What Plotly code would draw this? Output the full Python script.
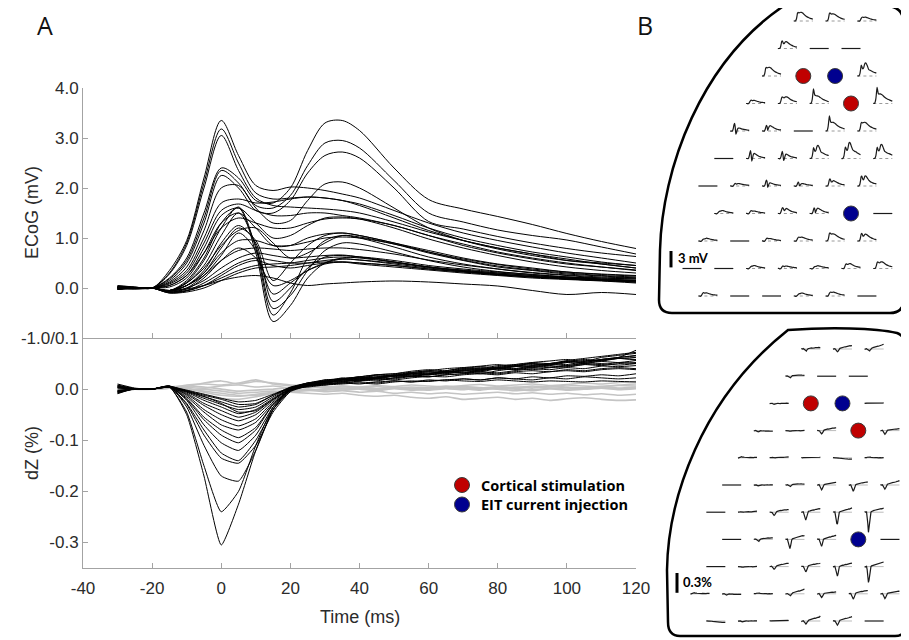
import plotly.graph_objects as go

# ---------------- DATA ----------------
# ECoG traces (mV), sampled at T_ECOG (ms)
T_ECOG = [-30, -25, -20, -15, -10, -5, 0, 5, 10, 15, 20, 25, 30, 35, 40, 50, 60, 70, 80, 90, 100, 110, 120]

ecog_a1 = [0.04, 0.02, 0.0, 0.35, 0.95, 2.2, 3.35, 2.65, 2.05, 1.95, 2.02, 2.0, 1.95, 1.88, 1.8, 1.55, 1.3, 1.1, 0.95, 0.82, 0.7, 0.6, 0.5]
ecog_a2 = [0.03, 0.01, 0.0, 0.3, 0.9, 2.1, 3.18, 2.5, 1.9, 1.78, 1.8, 1.82, 1.8, 1.75, 1.68, 1.45, 1.2, 1.0, 0.85, 0.72, 0.62, 0.52, 0.45]
ecog_a3 = [0.05, 0.02, 0.0, 0.28, 0.85, 2.0, 3.05, 2.35, 1.8, 1.65, 1.62, 1.6, 1.58, 1.55, 1.5, 1.32, 1.12, 0.95, 0.8, 0.68, 0.58, 0.48, 0.4]
ecog_b1 = [-0.03, -0.01, 0.0, 0.2, 0.6, 1.5, 2.4, 2.2, 1.75, 1.7, 2.0, 2.75, 3.3, 3.35, 3.15, 2.4, 1.77, 1.58, 1.43, 1.27, 1.09, 0.93, 0.79]
ecog_b2 = [-0.02, 0.0, 0.0, 0.18, 0.55, 1.4, 2.35, 2.1, 1.65, 1.6, 1.85, 2.45, 2.9, 2.95, 2.8, 2.15, 1.5, 1.32, 1.16, 1.05, 0.96, 0.82, 0.68]
ecog_b3 = [0.02, 0.01, 0.0, 0.15, 0.5, 1.3, 2.25, 2.0, 1.55, 1.5, 1.75, 2.3, 2.65, 2.72, 2.6, 2.0, 1.33, 1.18, 1.03, 0.9, 0.79, 0.7, 0.63]
ecog_b4 = [0.0, -0.01, 0.0, 0.12, 0.42, 1.15, 2.0, 2.05, 1.6, 1.3, 1.35, 1.75, 2.08, 2.12, 2.0, 1.6, 1.2, 0.95, 0.78, 0.65, 0.55, 0.5, 0.45]
ecog_d1 = [0.01, 0.0, 0.0, 0.1, 0.35, 1.0, 1.7, 1.78, 1.7, 1.72, 1.78, 1.82, 1.8, 1.75, 1.65, 1.4, 1.15, 0.95, 0.8, 0.68, 0.55, 0.48, 0.4]
ecog_d2 = [0.02, 0.0, 0.0, 0.08, 0.3, 0.9, 1.55, 1.68, 1.55, 1.45, 1.45, 1.5, 1.5, 1.45, 1.4, 1.25, 1.05, 0.88, 0.72, 0.6, 0.5, 0.42, 0.35]
ecog_d3 = [-0.02, 0.0, 0.0, 0.05, 0.25, 0.8, 1.45, 1.6, 1.3, 1.0, 1.05, 1.25, 1.4, 1.42, 1.38, 1.2, 0.98, 0.8, 0.65, 0.52, 0.42, 0.35, 0.3]
ecog_d4 = [0.0, -0.02, 0.0, 0.02, 0.2, 0.7, 1.3, 1.5, 1.2, 0.85, 0.85, 1.0, 1.08, 1.1, 1.05, 0.9, 0.75, 0.6, 0.48, 0.4, 0.32, 0.28, 0.25]
ecog_d5 = [0.01, 0.0, 0.0, -0.05, 0.1, 0.4, 0.85, 1.15, 1.2, 0.9, 0.6, 0.7, 0.9, 1.05, 1.02, 0.88, 0.7, 0.55, 0.42, 0.35, 0.28, 0.24, 0.2]
ecog_d6 = [0.0, 0.0, 0.0, 0.05, 0.25, 0.7, 1.2, 1.4, 1.3, 1.2, 1.2, 1.3, 1.38, 1.4, 1.38, 1.25, 1.05, 0.85, 0.7, 0.58, 0.48, 0.42, 0.36]
ecog_c1 = [0.0, -0.02, 0.0, -0.05, 0.15, 0.6, 1.3, 1.6, 0.7, -0.67, -0.35, 0.2, 0.5, 0.6, 0.62, 0.55, 0.45, 0.38, 0.32, 0.27, 0.22, 0.18, 0.15]
ecog_c2 = [0.02, 0.0, 0.0, -0.05, 0.12, 0.55, 1.2, 1.62, 0.8, -0.54, -0.1, 0.6, 0.95, 1.05, 1.0, 0.82, 0.62, 0.48, 0.38, 0.3, 0.25, 0.2, 0.18]
ecog_c3 = [-0.02, 0.0, 0.0, -0.06, 0.1, 0.45, 1.05, 1.5, 0.85, -0.41, -0.15, 0.35, 0.75, 0.9, 0.88, 0.72, 0.55, 0.42, 0.33, 0.27, 0.22, 0.18, 0.15]
ecog_c4 = [0.01, 0.0, 0.0, -0.07, 0.05, 0.35, 0.9, 1.25, 0.9, -0.27, 0.0, 0.4, 0.62, 0.65, 0.62, 0.52, 0.42, 0.34, 0.28, 0.23, 0.2, 0.16, 0.14]
ecog_c5 = [0.0, -0.01, 0.0, -0.08, 0.0, 0.25, 0.65, 1.1, 0.75, -0.12, 0.1, 0.35, 0.5, 0.58, 0.56, 0.48, 0.4, 0.33, 0.27, 0.22, 0.18, 0.15, 0.12]
ecog_c6 = [-0.03, 0.0, 0.0, -0.08, -0.02, 0.2, 0.55, 0.8, 0.6, 0.05, 0.15, 0.35, 0.48, 0.52, 0.5, 0.45, 0.38, 0.32, 0.26, 0.22, 0.18, 0.15, 0.12]
ecog_c7 = [0.01, 0.0, 0.0, -0.05, 0.05, 0.3, 0.8, 1.2, 0.95, 0.15, 0.5, 0.85, 1.05, 1.1, 1.05, 0.9, 0.72, 0.56, 0.44, 0.36, 0.3, 0.25, 0.22]
ecog_e1 = [0.0, 0.0, 0.0, -0.08, -0.05, 0.05, 0.2, 0.35, 0.45, 0.48, 0.5, 0.55, 0.6, 0.62, 0.6, 0.52, 0.42, 0.34, 0.28, 0.22, 0.18, 0.15, 0.12]
ecog_e2 = [0.02, 0.01, 0.0, -0.1, -0.06, 0.05, 0.25, 0.45, 0.55, 0.45, 0.4, 0.45, 0.5, 0.52, 0.5, 0.45, 0.38, 0.32, 0.27, 0.23, 0.2, 0.17, 0.15]
ecog_e3 = [-0.02, 0.0, 0.0, -0.1, -0.08, 0.0, 0.15, 0.3, 0.4, 0.42, 0.45, 0.5, 0.55, 0.58, 0.56, 0.5, 0.42, 0.35, 0.3, 0.25, 0.2, 0.17, 0.14]
ecog_e4 = [0.0, 0.0, 0.0, -0.06, 0.0, 0.15, 0.4, 0.6, 0.7, 0.65, 0.6, 0.62, 0.65, 0.66, 0.62, 0.52, 0.42, 0.36, 0.3, 0.25, 0.22, 0.2, 0.18]
ecog_e5 = [0.03, 0.01, 0.0, -0.09, -0.05, 0.1, 0.3, 0.5, 0.6, 0.55, 0.5, 0.5, 0.52, 0.52, 0.48, 0.42, 0.36, 0.3, 0.25, 0.2, 0.17, 0.14, 0.1]
ecog_e6 = [0.0, -0.01, 0.0, -0.05, 0.05, 0.25, 0.55, 0.75, 0.8, 0.78, 0.75, 0.78, 0.8, 0.8, 0.77, 0.68, 0.56, 0.46, 0.38, 0.31, 0.26, 0.22, 0.2]
ecog_e7 = [0.01, 0.0, 0.0, -0.05, 0.05, 0.3, 0.7, 0.95, 0.95, 0.85, 0.85, 0.92, 1.0, 1.02, 1.0, 0.88, 0.72, 0.58, 0.47, 0.38, 0.32, 0.27, 0.24]
ecog_f1 = [0.0, 0.0, 0.0, -0.05, -0.02, 0.05, 0.15, 0.22, 0.25, 0.2, 0.1, 0.05, 0.08, 0.1, 0.12, 0.14, 0.12, 0.08, 0.04, -0.05, -0.13, -0.09, -0.13]

# Impedance change traces dZ (%), sampled at T_DZ (ms)
T_DZ = [-30, -25, -20, -15, -10, -5, 0, 5, 10, 15, 20, 25, 30, 35, 40, 45, 50, 55, 60, 65, 70, 75, 80, 85, 90, 95, 100, 105, 110, 115, 120]

dz_z1 = [0.010, 0.002, 0.000, 0.005, -0.050, -0.170, -0.305, -0.225, -0.120, -0.040, 0.002, 0.010, 0.018, 0.020, 0.024, 0.028, 0.030, 0.033, 0.036, 0.040, 0.042, 0.040, 0.046, 0.048, 0.050, 0.047, 0.055, 0.052, 0.058, 0.060, 0.062]
dz_z2 = [-0.008, 0.001, 0.000, 0.004, -0.045, -0.150, -0.240, -0.200, -0.110, -0.035, 0.000, 0.012, 0.015, 0.022, 0.020, 0.028, 0.030, 0.035, 0.038, 0.036, 0.042, 0.045, 0.048, 0.044, 0.052, 0.055, 0.058, 0.054, 0.062, 0.066, 0.070]
dz_z3 = [0.006, 0.000, 0.000, 0.006, -0.035, -0.110, -0.170, -0.180, -0.120, -0.040, -0.002, 0.008, 0.012, 0.018, 0.022, 0.020, 0.026, 0.030, 0.028, 0.034, 0.036, 0.040, 0.038, 0.044, 0.046, 0.050, 0.048, 0.054, 0.058, 0.062, 0.065]
dz_z4 = [-0.005, 0.001, 0.000, 0.004, -0.030, -0.090, -0.135, -0.145, -0.110, -0.045, -0.005, 0.006, 0.012, 0.015, 0.018, 0.022, 0.020, 0.025, 0.028, 0.030, 0.034, 0.030, 0.036, 0.040, 0.038, 0.042, 0.044, 0.048, 0.046, 0.050, 0.052]
dz_z5 = [0.004, 0.000, 0.000, 0.005, -0.028, -0.080, -0.125, -0.140, -0.100, -0.040, -0.004, 0.008, 0.014, 0.018, 0.016, 0.022, 0.025, 0.028, 0.032, 0.030, 0.036, 0.038, 0.042, 0.040, 0.046, 0.050, 0.052, 0.056, 0.055, 0.060, 0.058]
dz_z6 = [-0.003, 0.000, 0.000, 0.006, -0.022, -0.070, -0.105, -0.120, -0.090, -0.035, -0.002, 0.010, 0.016, 0.014, 0.020, 0.024, 0.028, 0.026, 0.030, 0.035, 0.032, 0.038, 0.040, 0.044, 0.042, 0.048, 0.046, 0.050, 0.054, 0.052, 0.056]
dz_z7 = [0.008, 0.001, 0.000, 0.004, -0.020, -0.060, -0.090, -0.105, -0.080, -0.030, 0.000, 0.008, 0.012, 0.018, 0.022, 0.020, 0.026, 0.030, 0.034, 0.032, 0.038, 0.036, 0.042, 0.045, 0.048, 0.046, 0.052, 0.050, 0.056, 0.060, 0.057]
dz_z8 = [-0.006, 0.000, 0.000, 0.005, -0.018, -0.055, -0.080, -0.095, -0.075, -0.030, -0.003, 0.006, 0.010, 0.014, 0.018, 0.016, 0.022, 0.025, 0.024, 0.028, 0.030, 0.034, 0.032, 0.036, 0.040, 0.038, 0.042, 0.040, 0.045, 0.044, 0.046]
dz_z9 = [0.002, 0.000, 0.000, 0.005, -0.015, -0.045, -0.070, -0.080, -0.065, -0.028, -0.002, 0.010, 0.016, 0.020, 0.018, 0.024, 0.027, 0.030, 0.028, 0.033, 0.036, 0.034, 0.040, 0.038, 0.042, 0.045, 0.043, 0.048, 0.050, 0.047, 0.050]
dz_z10 = [-0.004, 0.000, 0.000, 0.006, -0.012, -0.040, -0.060, -0.072, -0.058, -0.025, 0.000, 0.006, 0.010, 0.012, 0.016, 0.020, 0.018, 0.022, 0.025, 0.024, 0.028, 0.030, 0.028, 0.032, 0.030, 0.034, 0.036, 0.034, 0.038, 0.040, 0.038]
dz_z11 = [0.005, 0.000, 0.000, 0.004, -0.010, -0.032, -0.050, -0.062, -0.050, -0.022, 0.002, 0.012, 0.016, 0.020, 0.024, 0.022, 0.028, 0.032, 0.030, 0.036, 0.040, 0.038, 0.044, 0.046, 0.044, 0.050, 0.054, 0.052, 0.058, 0.062, 0.066]
dz_z12 = [-0.007, 0.001, 0.000, 0.005, -0.008, -0.028, -0.042, -0.055, -0.045, -0.020, 0.000, 0.004, 0.008, 0.010, 0.012, 0.010, 0.014, 0.016, 0.015, 0.018, 0.020, 0.018, 0.022, 0.020, 0.024, 0.022, 0.026, 0.025, 0.028, 0.026, 0.030]
dz_z13 = [0.003, 0.000, 0.000, 0.004, -0.006, -0.022, -0.035, -0.048, -0.040, -0.018, 0.002, 0.008, 0.012, 0.016, 0.020, 0.018, 0.022, 0.026, 0.024, 0.028, 0.030, 0.032, 0.030, 0.034, 0.036, 0.034, 0.038, 0.036, 0.040, 0.042, 0.040]
dz_z14 = [-0.002, 0.000, 0.000, 0.005, -0.005, -0.018, -0.030, -0.040, -0.035, -0.015, 0.003, 0.010, 0.014, 0.018, 0.016, 0.022, 0.026, 0.024, 0.030, 0.034, 0.032, 0.036, 0.040, 0.038, 0.044, 0.042, 0.046, 0.050, 0.048, 0.052, 0.050]
dz_z15 = [0.007, 0.001, 0.000, 0.006, -0.004, -0.015, -0.025, -0.035, -0.030, -0.012, 0.002, 0.006, 0.008, 0.012, 0.010, 0.014, 0.016, 0.014, 0.018, 0.016, 0.020, 0.018, 0.022, 0.020, 0.018, 0.022, 0.020, 0.024, 0.022, 0.020, 0.022]
dz_z16 = [-0.005, 0.000, 0.000, 0.004, -0.003, -0.012, -0.020, -0.030, -0.028, -0.012, 0.004, 0.012, 0.018, 0.020, 0.024, 0.028, 0.026, 0.032, 0.036, 0.034, 0.040, 0.044, 0.042, 0.048, 0.052, 0.050, 0.056, 0.060, 0.064, 0.068, 0.072]
dz_z17 = [0.004, 0.000, 0.000, 0.005, -0.002, -0.010, -0.018, -0.025, -0.022, -0.010, 0.003, 0.008, 0.010, 0.012, 0.014, 0.012, 0.016, 0.014, 0.016, 0.018, 0.016, 0.015, 0.018, 0.016, 0.014, 0.016, 0.015, 0.014, 0.016, 0.015, 0.014]
dz_z18 = [-0.009, 0.001, 0.000, 0.004, -0.004, -0.014, -0.028, -0.045, -0.042, -0.020, 0.000, 0.008, 0.014, 0.018, 0.022, 0.026, 0.024, 0.030, 0.034, 0.032, 0.038, 0.042, 0.040, 0.046, 0.050, 0.048, 0.054, 0.058, 0.056, 0.062, 0.076]

# channels without a response (drawn grey)
dz_g1 = [-0.004, 0.000, 0.000, 0.003, 0.005, 0.012, 0.016, 0.010, 0.015, 0.012, 0.008, 0.006, 0.004, 0.006, 0.003, 0.005, 0.002, 0.004, 0.003, 0.006, 0.004, 0.002, 0.005, 0.003, 0.006, 0.004, 0.008, 0.006, 0.005, 0.007, 0.006]
dz_g2 = [0.003, 0.000, 0.000, 0.002, -0.002, 0.000, -0.004, -0.008, -0.006, -0.004, -0.006, -0.008, -0.010, -0.008, -0.012, -0.014, -0.012, -0.016, -0.018, -0.015, -0.020, -0.018, -0.016, -0.020, -0.018, -0.022, -0.019, -0.017, -0.020, -0.022, -0.021]
dz_g3 = [-0.002, 0.000, 0.000, 0.004, 0.002, -0.006, -0.012, -0.014, -0.010, -0.006, -0.002, 0.000, -0.002, 0.002, 0.000, -0.003, 0.001, -0.002, 0.000, 0.003, 0.001, -0.002, 0.002, 0.000, -0.003, 0.001, 0.003, 0.000, 0.002, -0.001, 0.001]
dz_g4 = [0.005, 0.000, 0.000, 0.003, 0.003, 0.002, 0.006, 0.008, 0.004, 0.006, 0.002, 0.004, 0.002, -0.002, 0.002, 0.000, 0.004, 0.002, 0.000, 0.002, 0.005, 0.003, 0.001, 0.004, 0.002, 0.006, 0.004, 0.002, 0.005, 0.008, 0.010]
dz_g5 = [-0.006, 0.000, 0.000, 0.002, -0.004, -0.010, -0.018, -0.020, -0.015, -0.008, -0.004, -0.002, -0.005, -0.003, -0.006, -0.004, -0.008, -0.006, -0.009, -0.007, -0.010, -0.008, -0.006, -0.009, -0.007, -0.010, -0.008, -0.011, -0.009, -0.012, -0.010]
dz_g6 = [0.002, 0.000, 0.000, 0.004, 0.006, 0.004, 0.000, -0.004, -0.002, 0.000, 0.003, 0.005, 0.003, 0.006, 0.004, 0.007, 0.005, 0.008, 0.006, 0.004, 0.007, 0.009, 0.006, 0.008, 0.010, 0.007, 0.009, 0.012, 0.010, 0.013, 0.015]
dz_g7 = [-0.001, 0.000, 0.000, 0.003, 0.000, -0.004, -0.008, -0.012, -0.012, -0.008, -0.005, -0.003, 0.000, -0.002, 0.001, -0.001, 0.002, 0.000, -0.002, 0.001, -0.001, 0.002, 0.000, -0.003, -0.001, 0.001, -0.002, 0.000, 0.003, 0.001, 0.002]
dz_g8 = [0.004, 0.000, 0.000, 0.002, 0.008, 0.010, 0.008, 0.012, 0.018, 0.010, 0.006, 0.003, 0.005, 0.002, 0.004, 0.001, 0.003, 0.000, 0.002, 0.004, 0.002, 0.000, 0.003, 0.001, 0.004, 0.002, 0.000, 0.003, 0.005, 0.002, 0.004]

Y_TICKS_ECOG = [-1, 0, 1, 2, 3, 4]
Y_LABELS_ECOG = ["-1.0/0.1", "0.0", "1.0", "2.0", "3.0", "4.0"]
Y_TICKS_DZ = [-0.3, -0.2, -0.1, 0.0, 0.1]
Y_LABELS_DZ = ["-0.3", "-0.2", "-0.1", "0.0", ""]
X_TICKS = [-40, -20, 0, 20, 40, 60, 80, 100, 120]
X_LABELS = ["-40", "-20", "0", "20", "40", "60", "80", "100", "120"]
LEGEND_LABELS = ["Cortical stimulation", "EIT current injection"]

ECOG = {"A1": ecog_a1, "A2": ecog_a2, "A3": ecog_a3, "B1": ecog_b1, "B2": ecog_b2, "B3": ecog_b3,
        "B4": ecog_b4, "D1": ecog_d1, "D2": ecog_d2, "D3": ecog_d3, "D4": ecog_d4, "D5": ecog_d5,
        "D6": ecog_d6, "C1": ecog_c1, "C2": ecog_c2, "C3": ecog_c3, "C4": ecog_c4, "C5": ecog_c5,
        "C6": ecog_c6, "C7": ecog_c7, "E1": ecog_e1, "E2": ecog_e2, "E3": ecog_e3, "E4": ecog_e4,
        "E5": ecog_e5, "E6": ecog_e6, "E7": ecog_e7, "F1": ecog_f1}
DZ_BLACK = {"Z1": dz_z1, "Z2": dz_z2, "Z3": dz_z3, "Z4": dz_z4, "Z5": dz_z5, "Z6": dz_z6,
            "Z7": dz_z7, "Z8": dz_z8, "Z9": dz_z9, "Z10": dz_z10, "Z11": dz_z11, "Z12": dz_z12,
            "Z13": dz_z13, "Z14": dz_z14, "Z15": dz_z15, "Z16": dz_z16, "Z17": dz_z17, "Z18": dz_z18}
DZ_GREY = {"G1": dz_g1, "G2": dz_g2, "G3": dz_g3, "G4": dz_g4, "G5": dz_g5, "G6": dz_g6,
           "G7": dz_g7, "G8": dz_g8}

# Electrode array layout for panel B: (start column, channels); None = flat channel
TOP_ROWS = [
    (7, ["D1", "D2", "E6"]),
    (6, ["D3", None, None]),
    (5, ["D1", "STIM", "EIT", "B3"]),
    (4, ["E4", "D6", "A3", "STIM", "A1"]),
    (3, ["C1", "C7", None, "A2", "D1"]),
    (2, [None, "C2", "C3", "B3", "B1", "B2"]),
    (1, [None, "E2", "C4", "C6", "D4", "B4"]),
    (2, ["E1", "E5", "D5", "C7", "EIT", None]),
    (1, ["E3", None, "E5", "E6", "D2", "D3"]),
    (0, [None, None, "E1", "E2", "E3", "E7", "D6"]),
    (1, ["E4", None, None, "E1", "E6", None]),
]
BOT_ROWS = [
    (7, ["Z15", "Z14", "Z16"]),
    (6, ["Z17", None, None]),
    (5, ["G3", "STIM", "EIT", "G4"]),
    (4, ["G5", "G7", "Z13", "STIM", "Z12"]),
    (3, ["G1", "G6", "G4", "G2", "G8"]),
    (2, [None, "G3", "Z17", "Z10", "Z8", "Z11"]),
    (1, [None, "G6", "Z13", "Z6", "Z3", "Z1"]),
    (2, [None, "Z15", "Z5", "Z7", "EIT", None]),
    (1, [None, "G7", "Z14", "Z9", "Z4", "Z2"]),
    (0, ["G1", "G5", "G8", "Z16", "Z12", "Z9", "Z10"]),
    (1, ["G2", "G3", "G4", "Z18", "Z11", None]),
]

# ---------------- LAYOUT CONSTANTS ----------------
OFF = 8                      # page body margin
W, H = 909 - OFF, 640 - OFF  # figure size
PX_L, PX_R = 83, 636
Y_TOP_TOP, Y_MID, Y_BOT = 88, 338, 568
AX_COLOR = "#a3a3a3"
TXT = "#2b2b2b"
SANS = "Liberation Sans"
TICKFONT = dict(family=SANS, size=17, color=TXT)
RED, BLUE = "#c00000", "#00008f"


def fx(px):
    return (px - OFF) / W


def fy(py):
    return 1 - (py - OFF) / H


fig = go.Figure()

# Panel A: ECoG
for name, v in ECOG.items():
    fig.add_trace(go.Scatter(x=T_ECOG, y=v, mode="lines", xaxis="x2", yaxis="y2",
                             line=dict(color="black", width=1, shape="spline", smoothing=0.9),
                             showlegend=False, hoverinfo="skip"))
# Panel A: dZ
for name, v in DZ_GREY.items():
    fig.add_trace(go.Scatter(x=T_DZ, y=v, mode="lines", xaxis="x", yaxis="y",
                             line=dict(color="#c4c4c4", width=1.6, shape="spline", smoothing=0.5),
                             showlegend=False, hoverinfo="skip"))
for name, v in DZ_BLACK.items():
    fig.add_trace(go.Scatter(x=T_DZ, y=v, mode="lines", xaxis="x", yaxis="y",
                             line=dict(color="black", width=1, shape="spline", smoothing=0.5),
                             showlegend=False, hoverinfo="skip"))

# Overlay in page-pixel coordinates: panel B electrode maps and legend keys
MINI_W = 19.0


def build_minis(rows, x0, dx, y0, dy, series, tgrid, yscale):
    lx, ly, gx, gy = [], [], [], []
    stim, eit = ([], []), ([], [])
    flat = [0.0] * len(tgrid)
    for r, (k0, chans) in enumerate(rows):
        cy = y0 + dy * r
        for j, ch in enumerate(chans):
            cx = x0 + dx * (k0 + 2 * j)
            if ch == "STIM":
                stim[0].append(cx); stim[1].append(cy); continue
            if ch == "EIT":
                eit[0].append(cx); eit[1].append(cy); continue
            vals = series.get(ch, flat) if ch else flat
            xs = [cx - MINI_W / 2 + (t - tgrid[0]) / (tgrid[-1] - tgrid[0]) * MINI_W for t in tgrid]
            ys = [cy - v * yscale for v in vals]
            lx += xs + [None]; ly += ys + [None]
            if ch is not None:
                gx += [xs[0], xs[-1], None]; gy += [cy, cy, None]
    return lx, ly, gx, gy, stim, eit


SC_MV, SC_DZ = 4.8, 66.0
tl = build_minis(TOP_ROWS, 692, 15.9, 21, 27.5, ECOG, T_ECOG, SC_MV)
bl = build_minis(BOT_ROWS, 700, 15.83, 349, 27.2, {**DZ_BLACK, **DZ_GREY}, T_DZ, SC_DZ)

fig.add_trace(go.Scatter(x=tl[2], y=tl[3], mode="lines", xaxis="x3", yaxis="y3",
                         line=dict(color="#9a9a9a", width=1, dash="dot"), showlegend=False, hoverinfo="skip"))
fig.add_trace(go.Scatter(x=tl[0], y=tl[1], mode="lines", xaxis="x3", yaxis="y3",
                         line=dict(color="#1a1a1a", width=1.2, shape="spline", smoothing=0.6),
                         showlegend=False, hoverinfo="skip"))
fig.add_trace(go.Scatter(x=bl[2], y=bl[3], mode="lines", xaxis="x3", yaxis="y3",
                         line=dict(color="#bbbbbb", width=1), showlegend=False, hoverinfo="skip"))
fig.add_trace(go.Scatter(x=bl[0], y=bl[1], mode="lines", xaxis="x3", yaxis="y3",
                         line=dict(color="#1a1a1a", width=1.2), showlegend=False, hoverinfo="skip"))

# legend keys (page-pixel positions)
LEG_X, LEG_Y, LEG_DY = 462, 485, 19.5
stim_x = tl[4][0] + bl[4][0] + [LEG_X]
stim_y = tl[4][1] + bl[4][1] + [LEG_Y]
eit_x = tl[5][0] + bl[5][0] + [LEG_X]
eit_y = tl[5][1] + bl[5][1] + [LEG_Y + LEG_DY]
fig.add_trace(go.Scatter(x=stim_x, y=stim_y, mode="markers", xaxis="x3", yaxis="y3",
                         marker=dict(size=15, color=RED, line=dict(color="#3a3a3a", width=1)),
                         name=LEGEND_LABELS[0], showlegend=False, hoverinfo="skip"))
fig.add_trace(go.Scatter(x=eit_x, y=eit_y, mode="markers", xaxis="x3", yaxis="y3",
                         marker=dict(size=15, color=BLUE, line=dict(color="#3a3a3a", width=1)),
                         name=LEGEND_LABELS[1], showlegend=False, hoverinfo="skip"))

# outlines of the electrode arrays
shapes = [
    dict(type="path", xref="x3", yref="y3",
         path="M 788,3 C 830,0 870,3 893,7 Q 903,10 903,21 L 904,298 Q 904,313 890,313 L 672,313 "
              "Q 659,313 659,300 L 660,250 C 662,170 700,60 788,3 Z",
         line=dict(color="black", width=2.5), fillcolor="rgba(0,0,0,0)"),
    dict(type="path", xref="x3", yref="y3",
         path="M 788,330 C 830,327 875,328 897,333 Q 906,336 906,350 L 906,624 Q 906,636 895,636 L 680,636 "
              "Q 668,636 668,622 L 667,570 C 668,500 700,400 788,330 Z",
         line=dict(color="black", width=2.5), fillcolor="rgba(0,0,0,0)"),
    # scale bars
    dict(type="line", xref="x3", yref="y3", x0=671, x1=671, y0=251, y1=251 + 3 * SC_MV + 2,
         line=dict(color="black", width=3)),
    dict(type="line", xref="x3", yref="y3", x0=677, x1=677, y0=573, y1=573 + 0.3 * SC_DZ,
         line=dict(color="black", width=3)),
]

annotations = [
    dict(text="A", x=fx(45), y=fy(25), xref="paper", yref="paper", showarrow=False,
         xanchor="center", yanchor="middle", font=dict(family="Open Sans", size=25, color="#111")),
    dict(text="B", x=fx(645), y=fy(25), xref="paper", yref="paper", showarrow=False,
         xanchor="center", yanchor="middle", font=dict(family="Open Sans", size=25, color="#111")),
    dict(text="ECoG (mV)", textangle=-90, x=fx(32), y=fy(213), xref="paper", yref="paper",
         xanchor="center", yanchor="middle", showarrow=False, font=dict(family=SANS, size=18, color=TXT)),
    dict(text="dZ (%)", textangle=-90, x=fx(32), y=fy(453), xref="paper", yref="paper",
         xanchor="center", yanchor="middle", showarrow=False, font=dict(family=SANS, size=18, color=TXT)),
    dict(text="Time (ms)", x=fx(360), y=fy(617), xref="paper", yref="paper",
         xanchor="center", yanchor="middle", showarrow=False, font=dict(family=SANS, size=18, color=TXT)),
    dict(text="<b>3 mV</b>", x=676, y=258, xref="x3", yref="y3", xanchor="left", yanchor="middle",
         showarrow=False, font=dict(family="Lato", size=13, color="black")),
    dict(text="<b>0.3%</b>", x=681, y=582, xref="x3", yref="y3", xanchor="left", yanchor="middle",
         showarrow=False, font=dict(family="Lato", size=13, color="black")),
    dict(text="<b>%s</b>" % LEGEND_LABELS[0], x=LEG_X + 18, y=LEG_Y, xref="x3", yref="y3",
         xanchor="left", yanchor="middle", showarrow=False, borderpad=0,
         font=dict(family="Open Sans", size=14.5, color="black")),
    dict(text="<b>%s</b>" % LEGEND_LABELS[1], x=LEG_X + 18, y=LEG_Y + LEG_DY, xref="x3", yref="y3",
         xanchor="left", yanchor="middle", showarrow=False, borderpad=0,
         font=dict(family="Open Sans", size=14.5, color="black")),
]

xdom = [fx(PX_L), fx(PX_R)]
common_x = dict(range=[-40, 120], tickvals=X_TICKS, ticktext=X_LABELS, ticks="inside", ticklen=5,
                tickcolor=AX_COLOR, showline=True, linecolor=AX_COLOR, linewidth=1, showgrid=False,
                zeroline=False, automargin=False)
common_y = dict(ticks="inside", ticklen=5, tickcolor=AX_COLOR, showline=True, linecolor=AX_COLOR,
                linewidth=1, showgrid=False, zeroline=False, tickfont=TICKFONT, automargin=False)

fig.update_layout(
    width=W, height=H, margin=dict(l=0, r=0, t=0, b=0, pad=0, autoexpand=False),
    paper_bgcolor="white", plot_bgcolor="rgba(0,0,0,0)",
    xaxis=dict(domain=xdom, anchor="y", tickfont=TICKFONT, ticklabelstandoff=5, **common_x),
    yaxis=dict(domain=[fy(Y_BOT), fy(Y_MID)], anchor="x", range=[-0.35, 0.1],
               tickvals=Y_TICKS_DZ, ticktext=Y_LABELS_DZ, **common_y),
    xaxis2=dict(domain=xdom, anchor="y2", matches="x", showticklabels=False, **common_x),
    yaxis2=dict(domain=[fy(Y_MID), fy(Y_TOP_TOP)], anchor="x2", range=[-1, 4],
                tickvals=Y_TICKS_ECOG, ticktext=Y_LABELS_ECOG, **common_y),
    xaxis3=dict(domain=[0, 1], anchor="y3", range=[OFF, 909], visible=False, automargin=False),
    yaxis3=dict(domain=[0, 1], anchor="x3", range=[640, OFF], visible=False, automargin=False),
    showlegend=False,
    shapes=shapes, annotations=annotations,
)

fig.write_html("out.html")
